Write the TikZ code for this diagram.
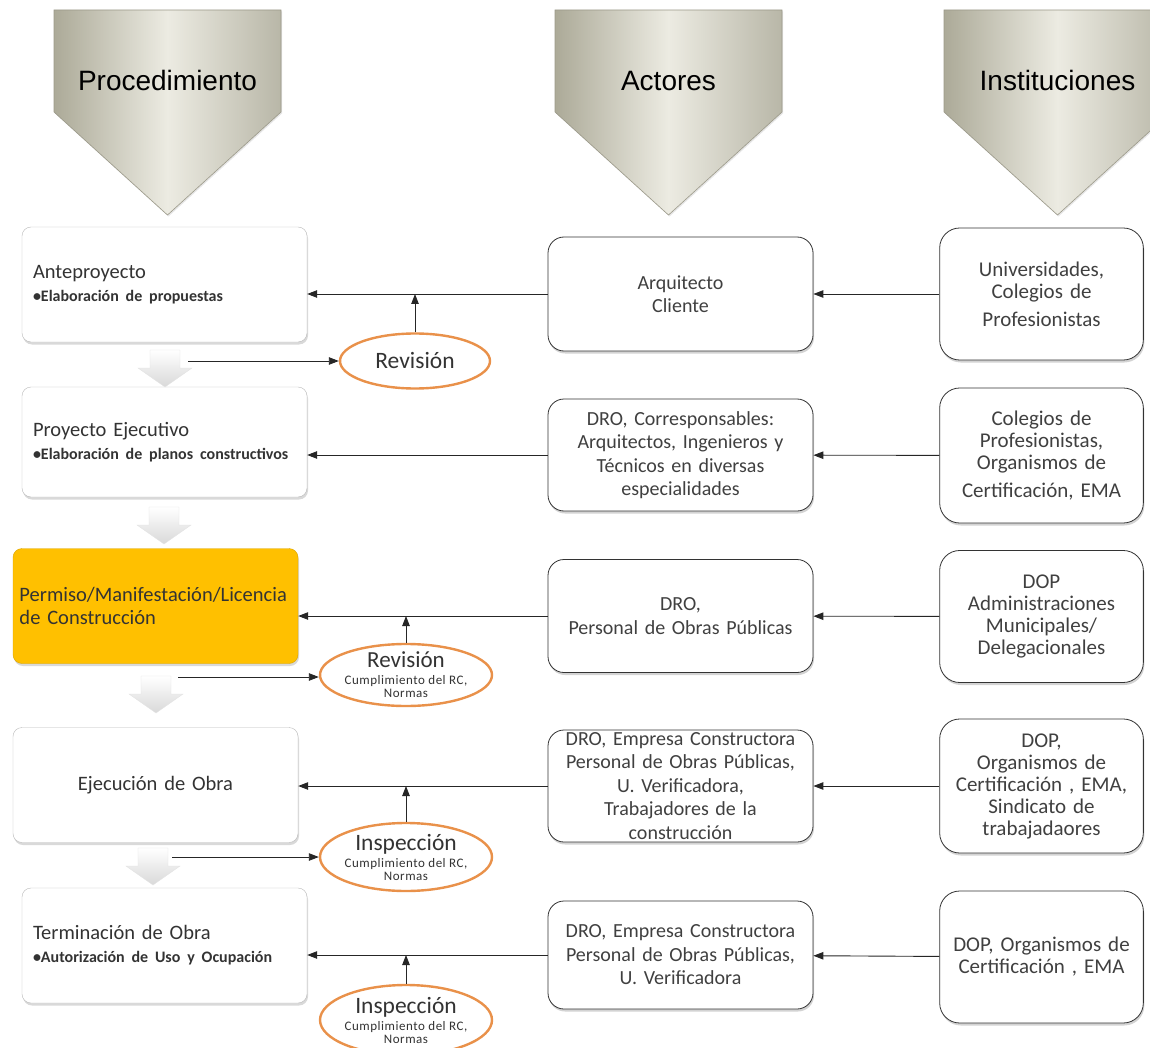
\documentclass[tikz,border=0pt]{standalone}
\usepackage{fontspec}
\setmainfont{Carlito}
\newfontfamily\headfont{Liberation Sans}
\newcommand{\rcfont}{\fontsize{13}{14}\selectfont\addfontfeatures{LetterSpace=4}}
\usetikzlibrary{arrows.meta,shapes.geometric,shadows}
\definecolor{chevdark}{RGB}{172,170,152}
\definecolor{chevlight}{RGB}{236,235,226}
\definecolor{permfill}{RGB}{255,192,0}
\definecolor{ringline}{RGB}{233,145,74}

\begin{document}
\begin{tikzpicture}[x=1pt,y=-1pt,
  link/.style={-{Triangle[length=10pt,width=7.5pt]},line width=.9pt,black!85},
  chev/.style={draw=chevdark!90!black,line width=.6pt,left color=chevdark,right color=chevdark!85,middle color=chevlight,
    drop shadow={opacity=.2,shadow xshift=1pt,shadow yshift=-1.5pt}},
  head/.style={font=\headfont\fontsize{28}{32}\selectfont,anchor=base},
  downarr/.style={draw=gray!22,top color=white,bottom color=gray!30},
  procbox/.style={draw=gray!55,rounded corners=9pt,fill=white,minimum width=285pt,minimum height=115pt,
    text width=263pt,align=left,text=black!80,font=\fontsize{20.5}{23}\selectfont,
    drop shadow={opacity=.3,shadow xshift=1pt,shadow yshift=-2.5pt}},
  actorbox/.style={draw=black!80,line width=.8pt,rounded corners=16pt,fill=white,minimum width=265pt,inner ysep=0pt,
    text width=255pt,align=center,text=black!75,font=\fontsize{20}{23.5}\selectfont,
    drop shadow={opacity=.35,shadow xshift=1pt,shadow yshift=-2.5pt}},
  instbox/.style={draw=black!80,line width=.8pt,rounded corners=20pt,fill=white,minimum width=203pt,minimum height=132pt,
    text width=197pt,align=center,text=black!75,font=\fontsize{21}{22}\selectfont,
    drop shadow={opacity=.35,shadow xshift=1pt,shadow yshift=-2.5pt}},
  check/.style={ellipse,draw=ringline,line width=2.4pt,fill=white,inner xsep=-25pt,inner ysep=-12pt,
    minimum width=172pt,align=center,text=black!80,font=\fontsize{23.5}{24}\selectfont}]
  \clip (0,0) rectangle (1150,1048);

  % column heads
  \foreach \hx/\hname/\htext in {54/proc/Procedimiento,555/act/Actores,944/inst/Instituciones}{
    \draw[chev] (\hx,10) -- (\hx+227,10) -- (\hx+227,112) -- (\hx+113.5,215) -- (\hx,112) -- cycle;
    \node[head] (h\hname) at (\hx+113.5,91) {\htext};
  }

  % procedure column
  \node[procbox] (ante) at (164.5,284.5) {Anteproyecto\\{\bfseries\fontsize{16}{19}\selectfont •Elaboración de propuestas}};
  \node[procbox,minimum height=110pt] (proy) at (164.5,442) {Proyecto Ejecutivo\\{\bfseries\fontsize{16}{19}\selectfont •Elaboración de planos constructivos}};
  \node[procbox,fill=permfill,draw=permfill!85!black,text width=272pt] (perm) at (155.5,606) {Permiso/Manifestación/Licencia\\de Construcción};
  \node[procbox,align=center] (ejec) at (155.5,785) {Ejecución de Obra};
  \node[procbox] (term) at (164.5,945.5) {Terminación de Obra\\{\bfseries\fontsize{16}{19}\selectfont •Autorización de Uso y Ocupación}};

  \foreach \ax/\ay in {165/350,164/507,156/676,153/848}
    \draw[downarr] (\ax-15,\ay) -- (\ax+15,\ay) -- (\ax+15,\ay+18) -- (\ax+27,\ay+18) -- (\ax,\ay+37)
      -- (\ax-27,\ay+18) -- (\ax-15,\ay+18) -- cycle;
  \coordinate (s1) at (188,361);
  \coordinate (s3) at (178,677);
  \coordinate (s4) at (172,857);

  % actors
  \node[actorbox,minimum height=114pt] (arq) at (680.5,294) {Arquitecto\\Cliente};
  \node[actorbox,minimum height=112pt] (dro1) at (680.5,455) {DRO, Corresponsables:\\Arquitectos, Ingenieros y\\Técnicos en diversas\\especialidades};
  \node[actorbox,minimum height=113pt] (dro2) at (680.5,616) {DRO,\\Personal de Obras Públicas};
  \node[actorbox,minimum height=112pt] (dro3) at (680.5,786) {DRO, Empresa Constructora\\Personal de Obras Públicas,\\U. Verificadora,\\Trabajadores de la\\construcción};
  \node[actorbox,minimum height=108pt] (dro4) at (680.5,955) {DRO, Empresa Constructora\\Personal de Obras Públicas,\\U. Verificadora};

  % institutions
  \node[instbox] (uni) at (1041.5,294) {Universidades,\\Colegios de\\[6pt]Profesionistas};
  \node[instbox,minimum height=135pt] (col) at (1041.5,455.5) {Colegios de\\Profesionistas,\\Organismos de\\[6pt]Certificación, EMA};
  \node[instbox] (dop1) at (1041.5,616.5) {DOP\\Administraciones\\Municipales/\\Delegacionales};
  \node[instbox,minimum height=134pt] (dop2) at (1041.5,786) {DOP,\\Organismos de\\Certificación , EMA,\\Sindicato de\\trabajadaores};
  \node[instbox] (dop3) at (1041.5,957) {DOP, Organismos de\\Certificación , EMA};

  % reviews
  \node[check,minimum width=150pt,minimum height=55pt] (rev1) at (415,361) {Revisión};
  \node[check,minimum height=62pt,font=\fontsize{23}{24}\selectfont] (rev2) at (406,675) {Revisión\\[-7pt]{\rcfont Cumplimiento del RC,}\\[-11pt]{\rcfont Normas}};
  \node[check,minimum height=68pt] (insp1) at (406,857) {Inspección\\[-7pt]{\rcfont Cumplimiento del RC,}\\[-11pt]{\rcfont Normas}};
  \node[check,minimum height=70pt] (insp2) at (406,1020) {Inspección\\[-7pt]{\rcfont Cumplimiento del RC,}\\[-11pt]{\rcfont Normas}};

  % connectors
  \draw[link] (uni) -- (arq);
  \draw[link] (col) -- (dro1);
  \draw[link] (dop1) -- (dro2);
  \draw[link] (dop2) -- (dro3);
  \draw[link] (dop3) -- (dro4);
  \draw[link] (arq.west) -- (arq.west -| ante.east);
  \draw[link] (dro1.west) -- (dro1.west -| proy.east);
  \draw[link] (dro2.west) -- (dro2.west -| perm.east);
  \draw[link] (dro3.west) -- (dro3.west -| ejec.east);
  \draw[link] (dro4.west) -- (dro4.west -| term.east);
  \draw[link] (s1) -- (s1 -| rev1.west);
  \draw[link] (s3) -- (s3 -| rev2.west);
  \draw[link] (s4) -- (s4 -| insp1.west);
  \draw[link] (rev1.north) -- (rev1.north |- arq.west);
  \draw[link] (rev2.north) -- (rev2.north |- dro2.west);
  \draw[link] (insp1.north) -- (insp1.north |- dro3.west);
  \draw[link] (insp2.north) -- (insp2.north |- dro4.west);
\end{tikzpicture}
\end{document}
